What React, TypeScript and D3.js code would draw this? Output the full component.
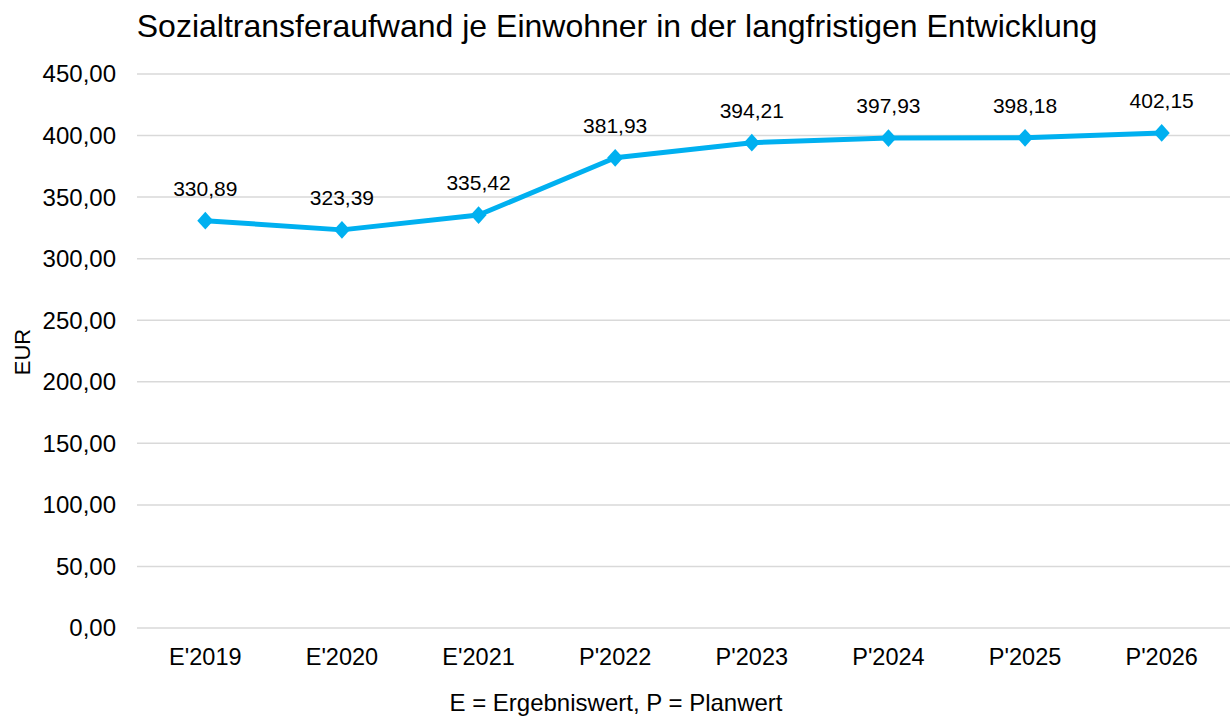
import React from "react";
import * as d3 from "d3";

const categories = ["E'2019", "E'2020", "E'2021", "P'2022", "P'2023", "P'2024", "P'2025", "P'2026"];
const values = [330.89, 323.39, 335.42, 381.93, 394.21, 397.93, 398.18, 402.15];
const yTicks = [0, 50, 100, 150, 200, 250, 300, 350, 400, 450];
const title = "Sozialtransferaufwand je Einwohner in der langfristigen Entwicklung";
const yLabel = "EUR";
const footnote = "E = Ergebniswert, P = Planwert";

const W = 1231;
const H = 718;
const left = 137;
const right = 1230;
const top = 74;
const bottom = 628;
const FONT = "'Liberation Sans', Arial, sans-serif";
const fmt = (v: number) => v.toFixed(2).replace(".", ",");

export default function App() {
  const x = d3.scaleBand<string>().domain(categories).range([left, right]).padding(0);
  const y = d3.scaleLinear().domain([0, 450]).range([bottom, top]);
  const cx = (c: string) => (x(c) as number) + x.bandwidth() / 2;
  const line = d3
    .line<number>()
    .x((_, i) => cx(categories[i]))
    .y((d) => y(d));
  const diamond = d3.symbol().type(d3.symbolDiamond2).size(165)();

  return (
    <svg
      width={W}
      height={H}
      style={{ position: "absolute", left: 0, top: 0, background: "#fff" }}
      fontFamily={FONT}
    >
      <text x={617} y={37} textAnchor="middle" fontSize={32} fill="#000">
        {title}
      </text>
      {yTicks.map((t) => (
        <g key={t}>
          <line x1={left} x2={right} y1={y(t)} y2={y(t)} stroke="#d9d9d9" strokeWidth={1.5} />
          <text x={116} y={y(t)} dy="0.35em" textAnchor="end" fontSize={24} fill="#000">
            {fmt(t)}
          </text>
        </g>
      ))}
      {categories.map((c) => (
        <text key={c} x={cx(c)} y={665} textAnchor="middle" fontSize={23.5} fill="#000">
          {c}
        </text>
      ))}
      <text
        transform={`translate(30,352) rotate(-90)`}
        textAnchor="middle"
        fontSize={22}
        fill="#000"
      >
        {yLabel}
      </text>
      <path d={line(values) || ""} fill="none" stroke="#00b0f0" strokeWidth={5} strokeLinejoin="round" />
      {values.map((v, i) => (
        <path key={i} d={diamond || ""} transform={`translate(${cx(categories[i])},${y(v)}) scale(1,1.1)`} fill="#00b0f0" />
      ))}
      {values.map((v, i) => (
        <text key={"l" + i} x={cx(categories[i])} y={y(v) - 25} textAnchor="middle" fontSize={21} fill="#000">
          {fmt(v)}
        </text>
      ))}
      <text x={616} y={711} textAnchor="middle" fontSize={24} fill="#000">
        {footnote}
      </text>
    </svg>
  );
}
